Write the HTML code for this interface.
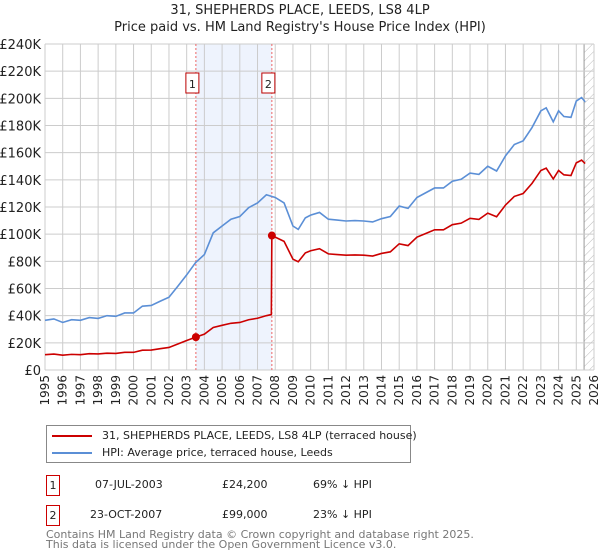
<!DOCTYPE html>
<html><head><meta charset="utf-8"><style>
body{margin:0;background:#fff;font-family:"DejaVu Sans","Liberation Sans",sans-serif;}
#wrap{position:relative;width:600px;height:560px;overflow:hidden}
</style></head><body>
<div id="wrap">
<svg id="chart" width="600" height="560" style="position:absolute;left:0;top:0">
<defs><pattern id="hatch" width="6" height="6" patternUnits="userSpaceOnUse" patternTransform="rotate(45)"><line x1="0" y1="0" x2="0" y2="6" stroke="#bbb" stroke-width="1"/></pattern></defs>
<text x="300" y="14" text-anchor="middle" font-size="13" fill="#222">31, SHEPHERDS PLACE, LEEDS, LS8 4LP</text>
<text x="300" y="31" text-anchor="middle" font-size="13" fill="#222">Price paid vs. HM Land Registry's House Price Index (HPI)</text>
<g id="grid"></g><g id="marks"></g><g id="axes"></g>
</svg>
<div style="position:absolute;left:46px;top:425px;width:363px;height:36px;border:1px solid #888;font-size:11px;color:#222">
 <div style="position:absolute;left:5px;top:3px;white-space:nowrap"><span style="display:inline-block;width:40px;height:2px;background:#cc0000;vertical-align:middle;margin-right:10px"></span>31, SHEPHERDS PLACE, LEEDS, LS8 4LP (terraced house)</div>
 <div style="position:absolute;left:5px;top:20px;white-space:nowrap"><span style="display:inline-block;width:40px;height:2px;background:#5b8fd6;vertical-align:middle;margin-right:10px"></span>HPI: Average price, terraced house, Leeds</div>
</div>
<div style="position:absolute;top:475px;left:0;width:600px;height:22px;font-size:11px;color:#222">
 <div style="position:absolute;left:46px;top:0;width:12px;height:19px;border:1px solid #c00;text-align:center;line-height:19px">1</div>
 <span style="position:absolute;left:95px;top:3px">07-JUL-2003</span><span style="position:absolute;left:222px;top:3px">£24,200</span><span style="position:absolute;left:313px;top:3px">69% ↓ HPI</span>
</div>
<div style="position:absolute;top:505px;left:0;width:600px;height:22px;font-size:11px;color:#222">
 <div style="position:absolute;left:46px;top:0;width:12px;height:19px;border:1px solid #c00;text-align:center;line-height:19px">2</div>
 <span style="position:absolute;left:90px;top:3px">23-OCT-2007</span><span style="position:absolute;left:222px;top:3px">£99,000</span><span style="position:absolute;left:313px;top:3px">23% ↓ HPI</span>
</div>
<div style="position:absolute;left:46px;top:530px;font-size:11px;line-height:10px;color:#777">Contains HM Land Registry data © Crown copyright and database right 2025.<br>This data is licensed under the Open Government Licence v3.0.</div>
</div>
<script>
const hpiYears=[1995,1995.5,1996,1996.5,1997,1997.5,1998,1998.5,1999,1999.5,2000,2000.5,2001,2001.5,2002,2002.5,2003,2003.5,2004,2004.5,2005,2005.5,2006,2006.5,2007,2007.5,2008,2008.5,2009,2009.3,2009.7,2010,2010.5,2011,2011.5,2012,2012.5,2013,2013.5,2014,2014.5,2015,2015.5,2016,2016.5,2017,2017.5,2018,2018.5,2019,2019.5,2020,2020.5,2021,2021.5,2022,2022.5,2023,2023.3,2023.7,2024,2024.3,2024.7,2025,2025.3,2025.5];
const hpiValues=[36.6,37.6,35,37,36.6,38.6,38,40,39.5,42,42,47,47.5,50.6,53.6,61.7,70,79,85,101,106,111,113,119.5,123,129,127,123,106,103.5,112,114,116,111,110.4,109.7,110,109.7,109,111.4,113,120.7,119,127,130.5,134,134,139,140.4,145,144,150,146.5,157.6,166,168.7,178.5,190.8,193,182.7,190.8,186.6,186,198,200.6,197.4];
const paidYears=[1995,1995.5,1996,1996.5,1997,1997.5,1998,1998.5,1999,1999.5,2000,2000.5,2001,2001.5,2002,2002.5,2003,2003.52,2004,2004.5,2005,2005.5,2006,2006.5,2007,2007.5,2007.78,2007.81,2008,2008.5,2009,2009.3,2009.7,2010,2010.5,2011,2011.5,2012,2012.5,2013,2013.5,2014,2014.5,2015,2015.5,2016,2016.5,2017,2017.5,2018,2018.5,2019,2019.5,2020,2020.5,2021,2021.5,2022,2022.5,2023,2023.3,2023.7,2024,2024.3,2024.7,2025,2025.3,2025.5];
const paidValues=[11.3,11.7,10.9,11.5,11.3,12,11.8,12.4,12.2,13,13,14.6,14.7,15.7,16.6,19.1,21.7,24.2,26.4,31.3,32.9,34.4,35,37,38.1,40,40.8,99,97.8,94.7,81.6,79.7,86.2,87.8,89.3,85.5,85,84.5,84.7,84.5,83.9,85.8,87,92.9,91.6,97.8,100.5,103.2,103.2,107,108.1,111.7,110.9,115.5,112.8,121.4,127.8,129.9,137.4,146.9,148.6,140.7,146.9,143.7,143.2,152.5,154.5,152];
const saleYears=[2003.52,2007.81];
const saleValues=[24.2,99];
const saleLabels=["1","2"];
const yTicks=[0,20,40,60,80,100,120,140,160,180,200,220,240];
const xTicks=[1995,1996,1997,1998,1999,2000,2001,2002,2003,2004,2005,2006,2007,2008,2009,2010,2011,2012,2013,2014,2015,2016,2017,2018,2019,2020,2021,2022,2023,2024,2025,2026];
const L=45,R=594,T=44,B=370;
const X=y=>L+(y-1995)/(2026-1995)*(R-L);
const Y=v=>B-v/240*(B-T);
const NS="http://www.w3.org/2000/svg";
function mk(parent,tag,attrs){const e=document.createElementNS(NS,tag);for(const k in attrs)e.setAttribute(k,attrs[k]);parent.appendChild(e);return e;}
const grid=document.getElementById('grid'),marks=document.getElementById('marks'),axes=document.getElementById('axes');
let e=mk(grid,'rect',{x:X(saleYears[0]),y:T,width:X(saleYears[1])-X(saleYears[0]),height:B-T,fill:'#eef3fd'});


e=mk(grid,'rect',{x:X(2025.44),y:T,width:R-X(2025.44),height:B-T,fill:'url(#hatch)'});


mk(grid,'line',{x1:X(2025.44),x2:X(2025.44),y1:T,y2:B,stroke:'#999'});
yTicks.forEach(v=>{
 const l=mk(grid,'line',{x1:L,x2:R,y1:Y(v),y2:Y(v),stroke:'#ccc','stroke-width':1});
 
 
 const t=mk(axes,'text',{x:L-4,y:Y(v)+5,'text-anchor':'end','font-size':13,fill:'#222'});
 t.textContent='£'+v+(v?'K':'');
 
 
});
xTicks.forEach(yr=>{
 const l=mk(grid,'line',{x1:X(yr),x2:X(yr),y1:T,y2:B,stroke:'#ccc','stroke-width':1});
 
 
 const t=mk(axes,'text',{x:0,y:0,'text-anchor':'end','font-size':12,fill:'#222',transform:`translate(${X(yr)+4},${B+5}) rotate(-90)`});
 t.textContent=yr;
 
 
});
saleYears.forEach((yr,i)=>{
 const l=mk(marks,'line',{x1:X(yr),x2:X(yr),y1:T,y2:B,stroke:'#e66','stroke-width':1,'stroke-dasharray':'2,2'});
 
 
});
const hp=mk(marks,'polyline',{points:hpiYears.map((y,i)=>X(y)+','+Y(hpiValues[i])).join(' '),fill:'none',stroke:'#5b8fd6','stroke-width':1.6});


const pp=mk(marks,'polyline',{points:paidYears.map((y,i)=>X(y)+','+Y(paidValues[i])).join(' '),fill:'none',stroke:'#cc0000','stroke-width':1.6});


saleYears.forEach((yr,i)=>{
 const c=mk(marks,'circle',{cx:X(yr),cy:Y(saleValues[i]),r:4,fill:'#cc0000'});
 
 
 const bx=X(yr)-10;
 const r=mk(marks,'rect',{x:bx,y:73,width:13,height:20,fill:'#fff',stroke:'#b00','stroke-width':1});
 
 
 const t=mk(marks,'text',{x:bx+6.5,y:88,'text-anchor':'middle','font-size':11,fill:'#222'});
 t.textContent=saleLabels[i];
 
 
});
</script>
</body></html>
